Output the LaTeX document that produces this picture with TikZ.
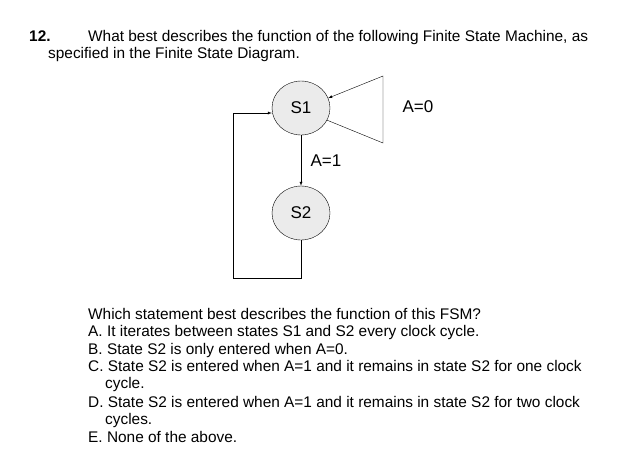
\documentclass[tikz,border=0pt]{standalone}
\usepackage{fontspec}
\setmainfont{Liberation Sans}
\usetikzlibrary{shapes.geometric}
\begin{document}
\begin{tikzpicture}[x=1pt, y=-1pt, >=latex,
  state/.style={draw, ellipse, fill=black!8, minimum width=58pt, minimum height=54pt, font=\fontsize{17}{20}\selectfont},
  txt/.style={anchor=base west, inner sep=0pt, font=\fontsize{15.4}{17}\selectfont}]
  \useasboundingbox (0,0) rectangle (644,469);
  % Question
  \node[txt, font=\fontsize{15.4}{17}\selectfont\bfseries] (num) at (29,41) {12.};
  \node[txt] (q1) at (88,41) {What best describes the function of the following Finite State Machine, as};
  \node[txt] (q2) at (48,58) {specified in the Finite State Diagram.};

  % States
  \node[state] (s1) at (301,108) {S1};
  \node[state] (s2) at (301,213) {S2};
  \draw[->] (s1) -- (s2) node[midway, right=6pt, font=\fontsize{17}{20}\selectfont] (a1) {A=1};

  % Self loop
  \coordinate (t1) at (383,76);
  \coordinate (t2) at (383,143);
  \draw[->] (s1.-25) -- (t2) -- (t1) -- (s1.20);
  \node[font=\fontsize{17}{20}\selectfont] (a0) at (418,107) {A=0};

  % Return path
  \coordinate (c1) at (301,278);
  \coordinate (c2) at (233,278);
  \coordinate (c3) at (233,113);
  \draw[->] (s2.south) -- (c1) -- (c2) -- (c3) -- (s1.west |- c3);

  % Answers
  \node[txt] (l1) at (88,319) {Which statement best describes the function of this FSM?};
  \node[txt] (l2) at (88,336) {A. It iterates between states S1 and S2 every clock cycle.};
  \node[txt] (l3) at (88,354) {B. State S2 is only entered when A=0.};
  \node[txt] (l4) at (88,371) {C. State S2 is entered when A=1 and it remains in state S2 for one clock};
  \node[txt] (l5) at (105,388) {cycle.};
  \node[txt] (l6) at (88,407) {D. State S2 is entered when A=1 and it remains in state S2 for two clock};
  \node[txt] (l7) at (105,424) {cycles.};
  \node[txt] (l8) at (88,442) {E. None of the above.};
\end{tikzpicture}
\end{document}
